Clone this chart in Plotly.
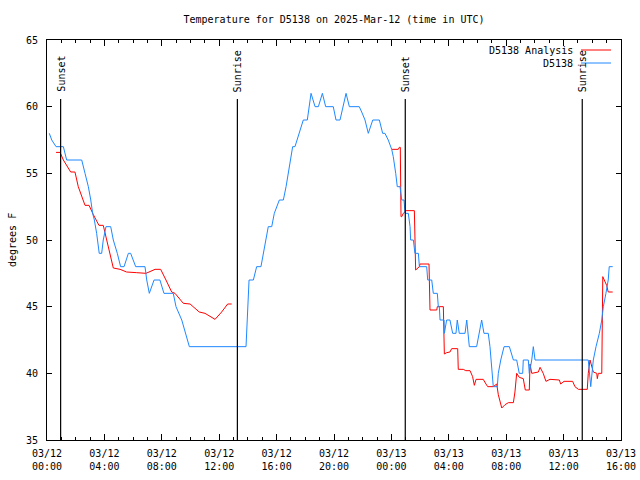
import pandas as pd
import plotly.graph_objects as go

# ---- data (hours after 2025-03-12 00:00 UTC, temperature in F) ----
obs_hours = [0.16, 0.33, 0.63, 1.14, 1.37, 2.42, 2.65, 2.88, 3.05, 3.18, 3.30, 3.46, 3.64, 3.81,
             3.92, 4.11, 4.44, 4.62, 4.90, 5.13, 5.37, 5.67, 5.83, 6.18, 6.83, 6.95, 7.13, 7.46,
             7.87, 8.15, 8.80, 8.99, 9.39, 9.67, 9.92, 13.87, 13.92, 13.96, 14.08, 14.38, 14.61,
             14.91, 15.08, 15.24, 15.42, 15.66, 15.84, 16.19, 16.47, 16.66, 16.82, 16.93, 17.12,
             17.28, 17.51, 17.86, 18.14, 18.26, 18.40, 18.68, 18.91, 19.19, 19.42, 19.95, 20.14,
             20.42, 20.61, 20.84, 21.07, 21.76, 21.93, 22.16, 22.39, 22.70, 23.16, 23.39, 23.55,
             23.78, 24.02, 24.13, 24.30, 24.41, 24.60, 24.72, 24.88, 24.95, 25.18, 25.30, 25.34,
             25.53, 25.64, 25.88, 25.95, 26.46, 26.53, 26.81, 26.92, 27.20, 27.27, 27.34, 27.39,
             27.67, 27.69, 27.85, 28.08, 28.27, 28.50, 28.59, 28.73, 29.13, 29.25, 29.32, 29.43,
             29.94, 30.13, 30.29, 30.45, 30.75, 30.87, 30.99, 31.10, 31.38, 31.45, 31.62, 31.85,
             32.22, 32.50, 32.73, 32.91, 33.15, 33.19, 33.54, 33.61, 33.78, 33.89, 34.01, 37.72,
             37.89, 38.07, 38.26, 38.49, 38.66, 38.77, 38.95, 39.11, 39.18, 39.42]
obs_temp = [58, 57.5, 57, 57, 56, 56, 55, 54, 53, 52, 51.5, 50.5, 49, 49,
            50, 51, 51, 50, 49, 48, 48, 49, 49, 48, 48, 47, 46, 47,
            47, 46, 46, 45, 44, 43, 42, 42, 43, 44.5, 47, 47, 48,
            48, 49, 50, 51, 51, 52, 53, 53, 54, 55, 56, 57,
            57, 57.75, 59, 59, 60, 61, 60, 60, 61, 60, 60, 59,
            59, 60, 61, 60, 60, 59.6, 59, 58, 59, 59, 58, 58,
            57.5, 56.8, 56.25, 55, 54, 54, 53, 53, 52, 52, 51, 50,
            50, 49, 49, 48, 48, 47, 47, 46, 46, 45, 45, 44,
            44, 43, 44, 44, 43, 43, 44, 43, 43, 44, 43, 42,
            42, 43, 44, 43, 43, 42, 40, 39, 39, 40, 41, 42,
            42, 41, 41, 40, 40, 41, 41, 40, 41, 42, 41, 41,
            39, 41, 42, 43, 44, 45, 46, 47, 48, 48]

ana1_hours = [0.63, 0.91, 1.14, 1.65, 1.95, 2.18, 2.65, 2.93, 3.23, 3.62, 3.92, 4.16, 4.39, 4.62,
              5.09, 5.55, 6.25, 6.90, 7.53, 7.92, 8.29, 8.69, 8.92, 9.50, 9.97, 10.61, 11.01,
              11.71, 12.17, 12.59, 12.87]
ana1_temp = [56.57, 56.57, 56, 55.1, 55.1, 54, 52.6, 52.6, 51.9, 51.1, 51.1, 50, 49, 47.9,
             47.8, 47.6, 47.55, 47.5, 47.8, 47.8, 47, 46.1, 46, 45.25, 45.2, 44.6, 44.5,
             44.05, 44.6, 45.2, 45.2]

ana2_hours = [24.02, 24.48, 24.55, 24.62, 24.67, 24.72, 24.83, 25.02, 25.60, 25.69, 25.95, 25.99,
              26.62, 26.69, 27.16, 27.20, 27.62, 27.69, 27.85, 28.08, 28.20, 28.62, 28.66, 29.01,
              29.18, 29.48, 29.66, 29.78, 29.90, 30.40, 30.59, 30.71, 31.10, 31.34, 31.45, 31.69,
              31.92, 32.15, 32.50, 32.61, 32.73, 32.91, 33.19, 33.33, 33.61, 33.66, 33.78, 34.01,
              34.24, 34.36, 34.58, 34.77, 35.05, 35.70, 35.80, 36.03, 36.63, 36.79, 37.03, 37.65,
              37.72, 37.84, 38.07, 38.31, 38.35, 38.42, 38.66, 38.73, 38.82, 39.00, 39.11, 39.42]
ana2_temp = [56.8, 56.8, 56.95, 56.95, 51.75, 51.75, 52.0, 52.2, 52.2, 47.75, 48, 48.2,
             48.2, 44.75, 44.75, 45, 45, 41.45, 41.55, 41.6, 41.85, 41.85, 40.3, 40.3,
             40.2, 40.2, 39.75, 39.1, 39.55, 39.55, 39.2, 39.0, 39.0, 39.2, 38.4, 37.4,
             37.65, 37.8, 37.8, 38.6, 40, 39.7, 39.6, 38.75, 38.75, 40.7, 40, 40.05,
             40.1, 40.45, 40, 39.4, 39.55, 39.5, 39.2, 39.4, 39.4, 39.0, 38.8, 38.8,
             40, 41, 40.1, 40.0, 39.6, 40, 40, 47.25, 47.0, 46.6, 46.1, 46.1]

sun_events = ["2025-03-12 00:57", "2025-03-12 13:16", "2025-03-13 00:58", "2025-03-13 13:18"]
sun_labels = ["Sunset", "Sunrise", "Sunset", "Sunrise"]

tick_hours = [0, 4, 8, 12, 16, 20, 24, 28, 32, 36, 40]
tick_labels = ["03/12<br>00:00", "03/12<br>04:00", "03/12<br>08:00", "03/12<br>12:00",
               "03/12<br>16:00", "03/12<br>20:00", "03/13<br>00:00", "03/13<br>04:00",
               "03/13<br>08:00", "03/13<br>12:00", "03/13<br>16:00"]

series_names = ["D5138 Analysis", "D5138"]
series_colors = ["#ff0000", "#1e88ff"]

base = pd.Timestamp("2025-03-12 00:00")


def to_time(hours):
    return [base + pd.Timedelta(hours=h) for h in hours]


FONT = "DejaVu Sans Mono"
W, H = 640, 480
fig = go.Figure()

for hrs, tmp in [(ana1_hours, ana1_temp), (ana2_hours, ana2_temp)]:
    fig.add_trace(go.Scatter(x=to_time(hrs), y=tmp, mode="lines",
                             line=dict(color=series_colors[0], width=1), showlegend=False))
fig.add_trace(go.Scatter(x=to_time(obs_hours), y=obs_temp, mode="lines",
                         line=dict(color=series_colors[1], width=1), showlegend=False))

# sunrise / sunset markers
y_line_top = (440 - 99) / 400
y_text_bot = (440 - 94) / 400
for t, lab in zip(sun_events, sun_labels):
    fig.add_shape(type="line", xref="x", yref="paper", x0=t, x1=t, y0=0, y1=y_line_top,
                  line=dict(color="black", width=1.2))
    fig.add_annotation(x=t, xref="x", y=y_text_bot, yref="paper", text=lab, textangle=-90,
                       showarrow=False, xanchor="center", yanchor="bottom",
                       font=dict(family=FONT, size=10, color="black"))

# legend drawn gnuplot-style: text on the left, sample on the right
pw = 574.0
for i, (name, col) in enumerate(zip(series_names, series_colors)):
    ypx = 50 + i * 13
    yp = (440 - ypx) / 400
    fig.add_annotation(x=(575 - 47) / pw, xref="paper", y=yp, yref="paper", text=name,
                       showarrow=False, xanchor="right", yanchor="middle",
                       font=dict(family=FONT, size=10, color="black"))
    fig.add_shape(type="line", xref="paper", yref="paper", x0=(581 - 47) / pw, x1=(611 - 47) / pw,
                  y0=yp, y1=yp, line=dict(color=col, width=1))

# y axis title
fig.add_annotation(x=(12 - 47) / pw, xref="paper", y=0.5, yref="paper", text="degrees F",
                   textangle=-90, showarrow=False, xanchor="center", yanchor="middle",
                   font=dict(family=FONT, size=10, color="black"))

fig.update_layout(
    width=W, height=H,
    margin=dict(l=47, r=W - 621, t=40, b=H - 440, autoexpand=False),
    paper_bgcolor="white", plot_bgcolor="white",
    font=dict(family=FONT, size=10, color="black"),
    title=dict(text="Temperature for D5138 on 2025-Mar-12 (time in UTC)",
               x=(334 - 47) / pw, xanchor="center", xref="paper",
               y=1 - 19.5 / H, yanchor="middle",
               font=dict(family=FONT, size=10, color="black")),
    showlegend=False,
)
fig.update_xaxes(
    type="date", automargin=False,
    range=[base, base + pd.Timedelta(hours=40)],
    tickmode="array", tickvals=to_time(tick_hours), ticktext=tick_labels,
    ticks="inside", ticklen=6, tickwidth=1, tickcolor="black",
    minor=dict(tick0=base, dtick=3600000, ticks="inside", ticklen=3, tickcolor="black", showgrid=False),
    showline=True, linecolor="black", linewidth=1, mirror="ticks",
    showgrid=False, zeroline=False, ticklabelstandoff=4,
    tickfont=dict(family=FONT, size=10, color="black"),
)
fig.update_yaxes(
    range=[35, 65], dtick=5, tick0=35, automargin=False,
    ticks="inside", ticklen=5, tickwidth=1, tickcolor="black",
    showline=True, linecolor="black", linewidth=1, mirror="ticks",
    showgrid=False, zeroline=False, ticklabelstandoff=6,
    tickfont=dict(family=FONT, size=10, color="black"),
)

# remove the browser's default 8px page margin so the 640x480 figure fills the window
fig.write_html("out.html", config={"displayModeBar": False},
               post_script="document.body.style.margin='0px';document.body.style.overflow='hidden';")
